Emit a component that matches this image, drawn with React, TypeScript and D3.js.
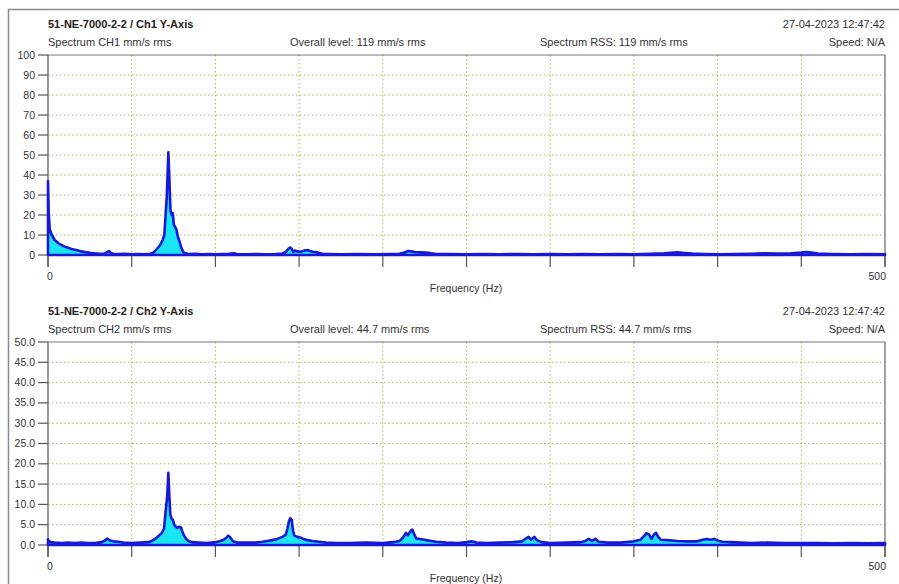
import React from "react";
import * as d3 from "d3";

// Ch1 spectrum (frequency in Hz, amplitude in mm/s rms)
const ch1Freq = [0, 0.4, 1, 2, 3, 4, 5, 6, 8, 10, 12, 14, 16, 18, 20, 22, 25, 28, 31, 34, 35.5, 36.5, 37.5, 39, 42, 46, 50, 54, 58, 61, 62.5, 64, 65.5, 67, 68.5, 69.5, 70.3, 71, 71.9, 72.6, 73.2, 73.9, 74.5, 75.2, 76, 76.8, 77.6, 78.5, 79.3, 80.2, 81, 82, 84, 88, 92, 96, 100, 104, 108, 111, 113, 118, 124, 130, 136, 140, 142, 143.5, 144.6, 145.7, 146.5, 147.5, 149, 151, 153, 155, 156.5, 158, 160, 162, 164, 168, 175, 185, 195, 205, 210, 213, 215, 217, 219, 222, 226, 229, 232, 240, 250, 260, 270, 280, 290, 300, 310, 320, 330, 340, 350, 360, 368, 372, 376, 380, 385, 392, 400, 410, 420, 428, 436, 444, 450, 453, 456, 460, 468, 480, 490, 500];
const ch1Amp = [37, 22, 13, 10.5, 9, 7.5, 6.8, 6, 5, 4.2, 3.6, 3, 2.6, 2.2, 1.8, 1.5, 1.1, 0.8, 0.6, 0.7, 1.6, 2, 1, 0.6, 0.5, 0.6, 0.4, 0.5, 0.4, 0.6, 1, 2, 3.5, 5, 7.5, 10, 21, 30, 51.3, 36, 22, 20, 21, 15, 14, 12.5, 9, 7, 4.5, 2.5, 1.3, 0.8, 0.5, 0.6, 0.4, 0.5, 0.4, 0.5, 0.6, 0.8, 0.5, 0.4, 0.5, 0.4, 0.5, 0.7, 1.5, 3, 3.8, 3, 1.5, 2.2, 1.8, 1.6, 2.2, 2.5, 2, 1.6, 1.5, 1, 0.6, 0.5, 0.4, 0.5, 0.4, 0.5, 0.6, 1.2, 2, 1.8, 1.5, 1.4, 1.2, 0.8, 0.5, 0.5, 0.4, 0.5, 0.4, 0.5, 0.4, 0.5, 0.4, 0.5, 0.4, 0.5, 0.4, 0.6, 0.8, 1.1, 1.3, 1.0, 0.7, 0.5, 0.4, 0.5, 0.6, 0.8, 0.7, 0.8, 1.2, 1.5, 1.2, 0.7, 0.5, 0.4, 0.5, 0.4];

// Ch2 spectrum
const ch2Freq = [0, 0.5, 1.5, 4, 8, 12, 16, 20, 24, 28, 32, 34, 35.4, 37, 39, 42, 45, 50, 55, 60, 62, 64, 66, 68, 69.3, 70.2, 71.2, 71.9, 72.5, 73.1, 73.8, 74.6, 75.4, 76.2, 77.2, 78.3, 79.5, 80.5, 81.5, 82.5, 84, 86, 90, 95, 100, 103, 105, 106.5, 107.7, 109, 110.5, 113, 118, 124, 128, 131, 134, 137, 140, 142, 143, 144, 144.8, 145.6, 146.4, 147.2, 149, 151, 153, 155, 158, 162, 166, 172, 180, 190, 200, 206, 210, 212, 213.8, 215, 216.5, 217.6, 218.6, 220, 223, 226, 229, 232, 238, 245, 250, 253, 256, 262, 270, 278, 283, 285.5, 287, 288.5, 290.5, 292, 295, 300, 310, 318, 321, 323, 325, 327, 329, 334, 342, 350, 354, 356, 357.5, 359, 360.5, 362, 363.2, 364.5, 366, 370, 376, 382, 388, 391, 393.5, 396, 398, 400, 403, 408, 414, 420, 430, 440, 450, 460, 470, 480, 490, 500];
const ch2Amp = [1.4, 1.0, 0.7, 0.6, 0.5, 0.6, 0.5, 0.6, 0.5, 0.5, 0.7, 1.1, 1.6, 1.1, 0.9, 0.8, 0.6, 0.5, 0.6, 0.7, 1.0, 1.5, 2.2, 3, 4, 8, 12, 17.8, 12, 7.5, 6.5, 6.2, 5, 4.6, 4.2, 4.5, 4.3, 3, 2.2, 1.5, 1, 0.7, 0.6, 0.5, 0.7, 1, 1.3, 1.8, 2.3, 1.8, 0.9, 0.6, 0.6, 0.6, 0.8, 1, 1.2, 1.5, 2, 2.5, 4, 6, 6.6, 6.2, 3.5, 2.3, 2, 1.8, 1.4, 1.2, 1, 0.8, 0.6, 0.5, 0.5, 0.6, 0.5, 0.7, 1, 1.8, 3, 2.4, 3.4, 3.8, 2.8, 1.6, 1.4, 1.2, 1, 0.8, 0.6, 0.5, 0.7, 0.9, 0.6, 0.5, 0.6, 0.7, 0.9, 1.6, 2, 1.3, 2, 1.2, 0.7, 0.5, 0.6, 0.7, 1, 1.5, 1, 1.5, 0.8, 0.6, 0.6, 0.9, 1.3, 2.2, 2.9, 2.6, 1.5, 2.6, 3, 2, 1.3, 1.2, 1, 0.9, 0.9, 1.3, 1.5, 1.3, 1.5, 1.1, 0.8, 0.7, 0.6, 0.5, 0.6, 0.5, 0.5, 0.5, 0.4, 0.5, 0.4, 0.5];

const ch1YTicks = [0, 10, 20, 30, 40, 50, 60, 70, 80, 90, 100];
const ch2YTicks = [0, 5, 10, 15, 20, 25, 30, 35, 40, 45, 50];
const xTicks = [0, 50, 100, 150, 200, 250, 300, 350, 400, 450, 500];

const FONT = "'Liberation Sans', Arial, sans-serif";
const TEXT = "#333";
const GRID = "#b8b45a";
const AXIS = "#555";

type PanelProps = {
  top: number;
  height: number;
  title: string;
  subtitle: string;
  overall: string;
  rss: string;
  yMax: number;
  yTicks: number[];
  yFormat: (v: number) => string;
  freq: number[];
  amp: number[];
};

function Panel(p: PanelProps) {
  const left = 48;
  const right = 885;
  const x = d3.scaleLinear().domain([0, 500]).range([left, right]);
  const y = d3.scaleLinear().domain([0, p.yMax]).range([p.top + p.height, p.top]);
  const pts = p.freq.map((f, i) => [f, p.amp[i]] as [number, number]);
  const area = d3
    .area<[number, number]>()
    .x((d) => x(d[0]))
    .y0(y(0))
    .y1((d) => y(d[1]));
  const base = y(0);
  return (
    <g fontFamily={FONT}>
      <text x={left} y={p.top - 27} fontSize={11} fontWeight="bold" fill="#222">{p.title}</text>
      <text x={right} y={p.top - 27} fontSize={11} fill={TEXT} textAnchor="end">27-04-2023 12:47:42</text>
      <text x={left} y={p.top - 9} fontSize={11} fill={TEXT}>{p.subtitle}</text>
      <text x={290} y={p.top - 9} fontSize={11} fill={TEXT}>{p.overall}</text>
      <text x={540} y={p.top - 9} fontSize={11} fill={TEXT}>{p.rss}</text>
      <text x={right} y={p.top - 9} fontSize={11} fill={TEXT} textAnchor="end">Speed: N/A</text>

      {/* grid */}
      {p.yTicks.filter((t) => t > 0 && t < p.yMax).map((t) => (
        <line key={"gy" + t} x1={left} x2={right} y1={y(t)} y2={y(t)} stroke={GRID} strokeWidth={1} strokeDasharray="1.5,2.5" />
      ))}
      {xTicks.filter((t) => t > 0 && t < 500).map((t) => (
        <line key={"gx" + t} x1={x(t)} x2={x(t)} y1={p.top} y2={base} stroke={GRID} strokeWidth={1} strokeDasharray="1.5,2.5" />
      ))}

      {/* frame */}
      <line x1={left} x2={right} y1={p.top} y2={p.top} stroke="#777" strokeWidth={1.2} />
      <line x1={right} x2={right} y1={p.top} y2={base + 12} stroke="#666" strokeWidth={1.2} />
      <line x1={left} x2={left} y1={p.top} y2={base + 12} stroke={AXIS} strokeWidth={1.2} />

      {/* y ticks */}
      {p.yTicks.map((t) => (
        <g key={"yt" + t}>
          <line x1={38} x2={left} y1={y(t)} y2={y(t)} stroke={AXIS} strokeWidth={1.2} />
          <text x={35} y={y(t) + 3.5} fontSize={10.5} fill={TEXT} textAnchor="end">{p.yFormat(t)}</text>
        </g>
      ))}
      {/* x ticks */}
      {xTicks.map((t) => (
        <line key={"xt" + t} x1={x(t)} x2={x(t)} y1={base} y2={base + 12} stroke={AXIS} strokeWidth={1.2} />
      ))}
      <text x={x(0) + 2} y={base + 25} fontSize={10.5} fill={TEXT} textAnchor="middle">0</text>
      <text x={x(500) + 1} y={base + 25} fontSize={10.5} fill={TEXT} textAnchor="end">500</text>
      <text x={466} y={base + 37} fontSize={10.5} fill={TEXT} textAnchor="middle">Frequency (Hz)</text>

      {/* spectrum */}
      <path d={area(pts) ?? ""} fill="#19e6f5" stroke="#1818d8" strokeWidth={2.6} strokeLinejoin="round" />
    </g>
  );
}

export default function App() {
  return (
    <svg width={899} height={584} style={{ position: "absolute", left: 0, top: 0, background: "#fff" }}>
      <rect x={0} y={0} width={899} height={584} fill="#fff" />
      <polyline points="8.5,584 8.5,9.5 899,9.5" fill="none" stroke="#8a8a8a" strokeWidth={1.5} />
      <Panel
        top={55}
        height={200}
        title="51-NE-7000-2-2 / Ch1 Y-Axis"
        subtitle="Spectrum CH1 mm/s rms"
        overall="Overall level: 119 mm/s rms"
        rss="Spectrum RSS: 119 mm/s rms"
        yMax={100}
        yTicks={ch1YTicks}
        yFormat={(v) => String(v)}
        freq={ch1Freq}
        amp={ch1Amp}
      />
      <Panel
        top={342}
        height={203}
        title="51-NE-7000-2-2 / Ch2 Y-Axis"
        subtitle="Spectrum CH2 mm/s rms"
        overall="Overall level: 44.7 mm/s rms"
        rss="Spectrum RSS: 44.7 mm/s rms"
        yMax={50}
        yTicks={ch2YTicks}
        yFormat={(v) => v.toFixed(1)}
        freq={ch2Freq}
        amp={ch2Amp}
      />
    </svg>
  );
}
